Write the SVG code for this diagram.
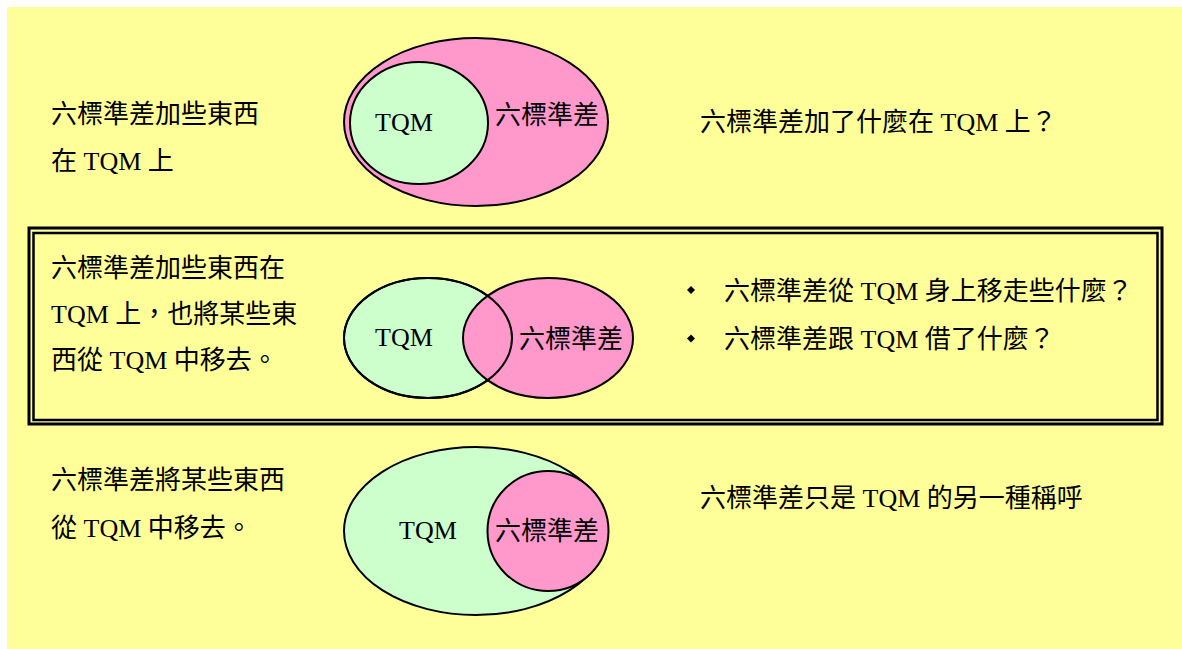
<svg xmlns="http://www.w3.org/2000/svg" width="1182" height="649" viewBox="0 0 1182 649">
<style>
.t{font-family:"Liberation Serif","Noto Sans CJK TC",serif;font-size:26px;fill:#000}
.g{fill:#CCFFCC;stroke:#000;stroke-width:2}
.p{fill:#FF99CC;stroke:#000;stroke-width:2}
.o{fill:none;stroke:#000;stroke-width:2}
</style>
<rect x="0" y="0" width="1182" height="649" fill="#fff"/>
<rect x="7" y="7" width="1175" height="642" fill="#FFFF99"/>
<g id="row1">
  <text class="t" x="51" y="123">六標準差加些東西</text>
  <text class="t" x="51" y="170">在 TQM 上</text>
  <g id="venn1">
    <ellipse class="p" cx="476" cy="122" rx="132" ry="84"/>
    <ellipse class="g" cx="419" cy="123" rx="69" ry="61"/>
    <text class="t" x="404" y="131" text-anchor="middle">TQM</text>
    <text class="t" x="495" y="124">六標準差</text>
  </g>
  <text class="t" x="700" y="131">六標準差加了什麼在 TQM 上？</text>
</g>
<g id="row2">
  <rect x="29" y="228" width="1133" height="196" fill="none" stroke="#000" stroke-width="3"/>
  <rect x="33.5" y="233" width="1124" height="187" fill="none" stroke="#000" stroke-width="2.5"/>
  <text class="t" x="51" y="277">六標準差加些東西在</text>
  <text class="t" x="51" y="323">TQM 上，也將某些東</text>
  <text class="t" x="51" y="369">西從 TQM 中移去。</text>
  <g id="venn2">
    <ellipse class="g" cx="428" cy="338" rx="84" ry="60"/>
    <ellipse class="p" cx="548" cy="338" rx="85" ry="60"/>
    <ellipse class="o" cx="428" cy="338" rx="84" ry="60"/>
    <text class="t" x="404" y="346" text-anchor="middle">TQM</text>
    <text class="t" x="519" y="348">六標準差</text>
  </g>
  <polygon points="691,286 695,290 691,294 687,290" fill="#000"/>
  <polygon points="691,334.5 695,338.5 691,342.5 687,338.5" fill="#000"/>
  <text class="t" x="724" y="300">六標準差從 TQM 身上移走些什麼？</text>
  <text class="t" x="724" y="348">六標準差跟 TQM 借了什麼？</text>
</g>
<g id="row3">
  <text class="t" x="51" y="489">六標準差將某些東西</text>
  <text class="t" x="51" y="537">從 TQM 中移去。</text>
  <g id="venn3">
    <ellipse class="g" cx="476" cy="531" rx="132" ry="84"/>
    <ellipse class="p" cx="548" cy="531" rx="60.5" ry="60"/>
    <text class="t" x="428" y="539" text-anchor="middle">TQM</text>
    <text class="t" x="495" y="540">六標準差</text>
  </g>
  <text class="t" x="700" y="507">六標準差只是 TQM 的另一種稱呼</text>
</g>
</svg>
